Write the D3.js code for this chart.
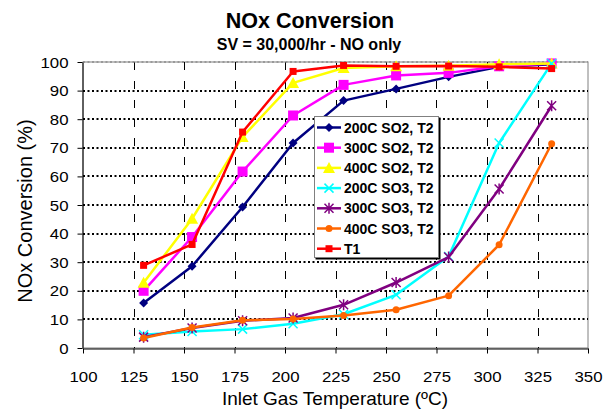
<!DOCTYPE html>
<html>
<head>
<meta charset="utf-8">
<script src="https://cdn.jsdelivr.net/npm/d3@7"></script>
<style>
  html, body { margin: 0; padding: 0; background: #fff; }
  svg { display: block; font-family: Arial, "Liberation Sans", sans-serif; }
</style>
</head>
<body>
<svg id="chart" width="605" height="409"></svg>
<script>
// Inlet temperatures (°C) at which conversion was measured
const temps = [130, 154, 179, 204, 229, 255, 281, 306, 332];

// NOx conversion (%) for each catalyst condition
const so2_200 = [15.7, 28.6, 49.3, 71.7, 86.5, 90.6, 94.8, 98.3, 99.2];
const so2_300 = [20.0, 38.8, 61.7, 81.3, 92.0, 95.3, 96.2, 98.5, 99.5];
const so2_400 = [22.8, 45.2, 73.8, 92.7, 97.9, 98.5, 98.7, 99.2, 99.5];
const so3_200 = [4.6, 5.8, 6.6, 8.5, 11.8, 18.6, 32.0, 71.7, 99.5];
const so3_300 = [3.8, 7.0, 9.5, 10.5, 15.1, 22.9, 31.8, 55.6, 84.7];
const so3_400 = [3.5, 7.2, 9.7, 10.1, 11.4, 13.4, 18.3, 36.1, 71.4];
const t1      = [28.9, 36.2, 75.5, 96.7, 98.8, 98.5, 98.6, 98.3, 97.7];

const seriesNames = ["200C SO2, T2", "300C SO2, T2", "400C SO2, T2",
                     "200C SO3, T2", "300C SO3, T2", "400C SO3, T2", "T1"];
const seriesValues = [so2_200, so2_300, so2_400, so3_200, so3_300, so3_400, t1];
const seriesColors = ["#000080", "#FF00FF", "#FFFF00", "#00FFFF", "#800080", "#FF6600", "#FF0000"];
const seriesMarkers = ["diamond", "square", "triangle", "x", "asterisk", "circle", "smallsquare"];

const xTicks = [100, 125, 150, 175, 200, 225, 250, 275, 300, 325, 350];
const yTicks = [0, 10, 20, 30, 40, 50, 60, 70, 80, 90, 100];

const svg = d3.select("#chart");
const plotL = 83, plotR = 588, plotT = 62, plotB = 348;

const x = d3.scaleLinear().domain([100, 350]).range([plotL, plotR]);
const y = d3.scaleLinear().domain([0, 100]).range([plotB, plotT]);

// Titles
svg.append("text").attr("x", 310).attr("y", 28).attr("text-anchor", "middle")
  .attr("font-size", 21.5).attr("font-weight", "bold").text("NOx Conversion");
svg.append("text").attr("x", 309).attr("y", 50).attr("text-anchor", "middle")
  .attr("font-size", 16).attr("font-weight", "bold").text("SV = 30,000/hr - NO only");

// Plot border
svg.append("rect").attr("x", plotL).attr("y", plotT)
  .attr("width", plotR - plotL).attr("height", plotB - plotT)
  .attr("fill", "none").attr("stroke", "#808080").attr("stroke-width", 1);

// Vertical dashed gridlines
svg.append("g").selectAll("line").data(xTicks.slice(1, -1)).join("line")
  .attr("x1", d => Math.round(x(d)) + 0.5).attr("x2", d => Math.round(x(d)) + 0.5)
  .attr("y1", plotT).attr("y2", plotB)
  .attr("stroke", "#000").attr("stroke-width", 1)
  .attr("stroke-dasharray", "8,11");

// Horizontal dotted gridlines
svg.append("g").selectAll("line").data(yTicks.slice(1, -1)).join("line")
  .attr("x1", plotL).attr("x2", plotR)
  .attr("y1", d => Math.round(y(d))).attr("y2", d => Math.round(y(d)))
  .attr("stroke", "#000").attr("stroke-width", 2)
  .attr("stroke-dasharray", "2,2.5");
svg.append("line").attr("x1", plotL).attr("x2", plotR)
  .attr("y1", plotT).attr("y2", plotT)
  .attr("stroke", "#999").attr("stroke-width", 2).attr("stroke-dasharray", "2,2.5");

// Axes
const xAxis = d3.axisBottom(x).tickValues(xTicks).tickSizeInner(5).tickSizeOuter(0);
const yAxis = d3.axisLeft(y).tickValues(yTicks).tickSizeInner(5).tickSizeOuter(0);
const gx = svg.append("g").attr("transform", `translate(0,${plotB + 0.5})`).call(xAxis);
const gy = svg.append("g").attr("transform", `translate(${plotL - 0.5},0)`).call(yAxis);
[gx, gy].forEach(g => {
  g.select(".domain").attr("stroke", "#000");
  g.selectAll(".tick line").attr("stroke", "#000");
  g.selectAll("text").attr("font-size", 14).attr("fill", "#000")
    .attr("font-family", "Arial, 'Liberation Sans', sans-serif");
});
// Tick labels are drawn slightly wide
gx.selectAll(".tick text").attr("x", 0).attr("y", 0).attr("dy", 0)
  .attr("transform", "translate(0,33) scale(1.2,1)");
gy.selectAll(".tick text").attr("x", 0).attr("dy", "0.36em")
  .attr("transform", "translate(-14,0) scale(1.2,1)");

// Axis titles
svg.append("text").attr("x", 335).attr("y", 405).attr("text-anchor", "middle")
  .attr("font-size", 19).text("Inlet Gas Temperature (ºC)");
svg.append("text").attr("transform", `translate(32,${(plotT + plotB) / 2 + 6}) rotate(-90)`)
  .attr("text-anchor", "middle").attr("font-size", 20).text("NOx Conversion (%)");

// Marker drawing
function drawMarker(g, type, color) {
  switch (type) {
    case "diamond":
      g.append("path").attr("d", "M0,-4.5L4.5,0L0,4.5L-4.5,0Z").attr("fill", color);
      break;
    case "square":
      g.append("rect").attr("x", -5).attr("y", -5).attr("width", 10).attr("height", 10).attr("fill", color);
      break;
    case "triangle":
      g.append("path").attr("d", "M0,-6L6,5L-6,5Z").attr("fill", color);
      break;
    case "x":
      g.append("path").attr("d", "M-4.5,-4.5L4.5,4.5M-4.5,4.5L4.5,-4.5")
        .attr("stroke", color).attr("stroke-width", 1.5).attr("fill", "none");
      break;
    case "asterisk":
      g.append("path").attr("d", "M-4.5,-4.5L4.5,4.5M-4.5,4.5L4.5,-4.5M0,-5.5L0,5.5")
        .attr("stroke", color).attr("stroke-width", 1.5).attr("fill", "none");
      break;
    case "circle":
      g.append("circle").attr("r", 3.5).attr("fill", color);
      break;
    case "smallsquare":
      g.append("rect").attr("x", -3.5).attr("y", -3.5).attr("width", 7).attr("height", 7).attr("fill", color);
      break;
  }
}

// Series lines and markers
const line = d3.line().x(d => x(d[0])).y(d => y(d[1]));
seriesValues.forEach((vals, i) => {
  const pts = temps.map((t, j) => [t, vals[j]]);
  const g = svg.append("g");
  g.append("path").datum(pts).attr("d", line)
    .attr("fill", "none").attr("stroke", seriesColors[i]).attr("stroke-width", 2.5)
    .attr("stroke-linejoin", "round");
  pts.forEach(p => {
    const m = g.append("g").attr("transform", `translate(${x(p[0])},${y(p[1])})`);
    drawMarker(m, seriesMarkers[i], seriesColors[i]);
  });
});

// Legend
const lg = svg.append("g").attr("transform", "translate(314,116)");
lg.append("rect").attr("x", 1.5).attr("y", 1.5).attr("width", 125).attr("height", 142)
  .attr("fill", "#000");
lg.append("rect").attr("x", 0.5).attr("y", 0.5).attr("width", 124).attr("height", 141)
  .attr("fill", "#fff").attr("stroke", "#808080").attr("stroke-width", 1);
seriesNames.forEach((name, i) => {
  const yy = 11.5 + i * 20.2;
  const row = lg.append("g").attr("transform", `translate(0,${yy})`);
  row.append("line").attr("x1", 3).attr("x2", 27).attr("y1", 0).attr("y2", 0)
    .attr("stroke", seriesColors[i]).attr("stroke-width", 2.5);
  const m = row.append("g").attr("transform", "translate(15,0)");
  drawMarker(m, seriesMarkers[i], seriesColors[i]);
  row.append("text").attr("x", 30).attr("y", 5).attr("font-size", 14)
    .attr("font-weight", "bold").text(name);
});
</script>
</body>
</html>
